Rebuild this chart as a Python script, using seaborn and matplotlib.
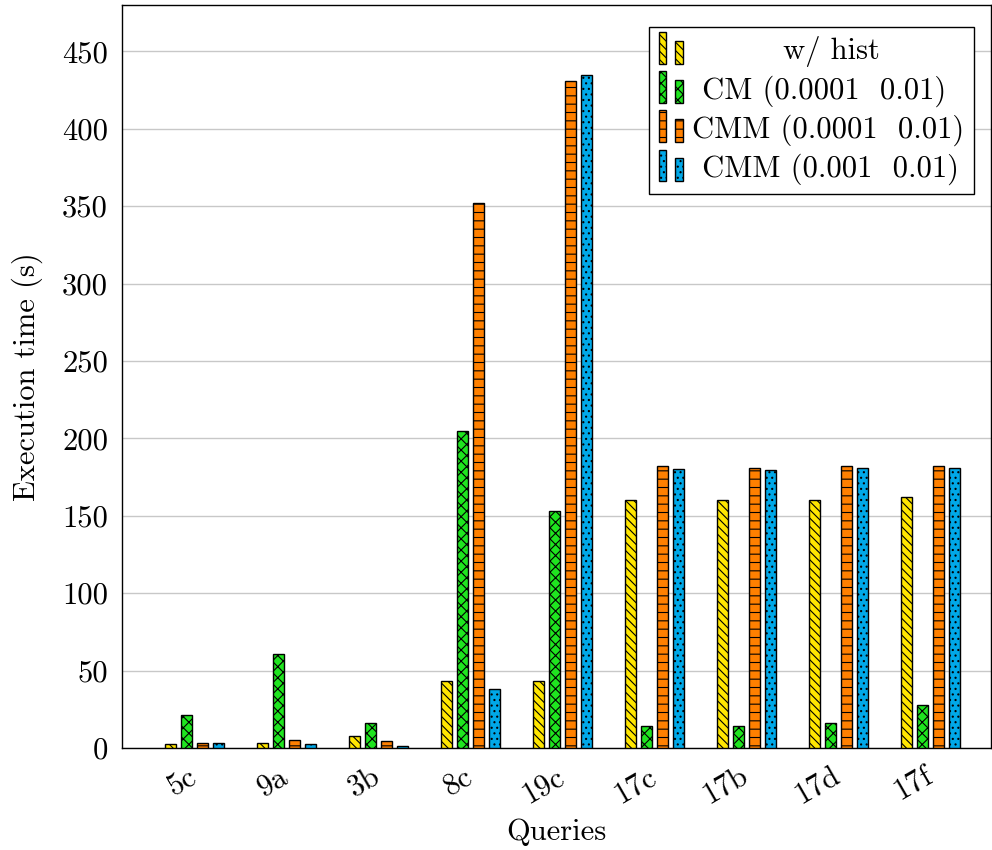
import numpy as np
import pandas as pd
import matplotlib
matplotlib.use("Agg")
import matplotlib.pyplot as plt
import seaborn as sns
from matplotlib.legend_handler import HandlerBase
from matplotlib.patches import Rectangle

queries = ['5c', '9a', '3b', '8c', '19c', '17c', '17b', '17d', '17f']
series = ['w/ hist', 'CM (0.0001  0.01)', 'CMM (0.0001  0.01)', 'CMM (0.001  0.01)']
w_hist = [2.5, 3.5, 7.5, 43, 43, 160, 160.5, 160.5, 162]
cm = [21, 60.5, 16, 205, 153, 14, 14.5, 16, 28]
cmm_0001 = [3, 5, 4.5, 352, 431, 182, 181, 182.5, 182.5]
cmm_001 = [3, 2.5, 1.5, 38, 435, 180, 179.5, 181, 181]
yticks = [0, 50, 100, 150, 200, 250, 300, 350, 400, 450]

colors = ['#FFE600', '#1FE51F', '#FF8000', '#00A8E8']
hatches = ['\\\\\\\\', 'xxx', '--', '...']

df = pd.DataFrame({
    'Query': queries * 4,
    'Series': sum([[s] * len(queries) for s in series], []),
    'Time': w_hist + cm + cmm_0001 + cmm_001,
})

sns.set_theme(style='white')
plt.rcParams['font.family'] = ['serif']
plt.rcParams['font.serif'] = ['cmr10']
plt.rcParams['axes.formatter.use_mathtext'] = True
plt.rcParams['hatch.linewidth'] = 0.8
plt.rcParams['hatch.color'] = 'black'
plt.rcParams['text.color'] = 'black'
plt.rcParams['axes.labelcolor'] = 'black'
plt.rcParams['xtick.labelcolor'] = 'black'
plt.rcParams['ytick.labelcolor'] = 'black'

FS = 22
fig = plt.figure(figsize=(9.92, 8.5), dpi=100)
ax = fig.add_axes([122 / 992, 1 - 748 / 850, 869 / 992, 743 / 850])

sns.barplot(data=df, x='Query', y='Time', hue='Series', order=queries,
            hue_order=series, palette=colors, width=0.696, edgecolor='black',
            linewidth=1.0, saturation=1, ax=ax, legend=False, zorder=3)

bar_w = 0.12
for cont, h in zip(ax.containers, hatches):
    for p in cont.patches:
        cx = p.get_x() + p.get_width() / 2
        p.set_width(bar_w)
        p.set_x(cx - bar_w / 2)
        p.set_hatch(h)
        p.set_edgecolor('black')

ax.set_xlim(-0.783, 8.66)
ax.set_ylim(0, 480)
ax.set_yticks(yticks)
ax.set_yticklabels([str(v) for v in yticks], fontsize=FS)
ax.grid(axis='y', color='#c8c8c8', linewidth=1, zorder=0)
ax.set_axisbelow(True)
ax.tick_params(axis='y', direction='in', length=11, color='#909090', width=1,
               pad=10, labelcolor='black')
ax.tick_params(axis='x', direction='out', length=10, color='#b0b0b0', width=1.5,
               pad=9, labelcolor='black')
plt.setp(ax.get_xticklabels(), rotation=30, ha='right', va='center',
         rotation_mode='anchor', fontsize=FS)
ax.set_xlabel('Queries', fontsize=FS, labelpad=6, color='black')
ax.set_ylabel('Execution time (s)', fontsize=FS, labelpad=14, color='black')
for s in ax.spines.values():
    s.set_color('black')
    s.set_linewidth(1.0)


class HandlerTwoBars(HandlerBase):
    def create_artists(self, legend, orig_handle, xdescent, ydescent,
                       width, height, fontsize, trans):
        fc = orig_handle.get_facecolor()
        hh = orig_handle.get_hatch()
        x0 = -xdescent
        y0 = -ydescent - 0.15 * height
        r1 = Rectangle((x0, y0), 0.32 * width, 1.35 * height, facecolor=fc,
                       edgecolor='black', hatch=hh, lw=1, transform=trans)
        r2 = Rectangle((x0 + 0.67 * width, y0), 0.33 * width, 0.98 * height,
                       facecolor=fc, edgecolor='black', hatch=hh, lw=1,
                       transform=trans)
        return [r1, r2]


handles = [Rectangle((0, 0), 1, 1, facecolor=c, edgecolor='black', hatch=h)
           for c, h in zip(colors, hatches)]
leg = ax.legend(handles, series, loc='upper right', bbox_to_anchor=(0.98, 0.97),
                borderaxespad=0, fontsize=FS, frameon=True, fancybox=False,
                edgecolor='black', framealpha=1, handlelength=0.8,
                handleheight=0.8, handletextpad=0.3, labelspacing=0.25,
                borderpad=0.3, handler_map={Rectangle: HandlerTwoBars()})
leg.get_frame().set_linewidth(1.0)
for t in leg.get_texts():
    t.set_color('black')

# center the legend labels (pgfplots-style) by padding with spaces
fig.canvas.draw()
r = fig.canvas.get_renderer()
texts = leg.get_texts()
widths = [t.get_window_extent(r).width for t in texts]
t0 = texts[0]
orig = t0.get_text()
t0.set_text('a a')
wa = t0.get_window_extent(r).width
t0.set_text('aa')
space_w = wa - t0.get_window_extent(r).width
t0.set_text(orig)
maxw = max(widths)
for t, w in zip(texts, widths):
    n = int(round((maxw - w) / 2 / space_w))
    t.set_text(' ' * n + t.get_text())

fig.savefig('out.png', dpi=100)
